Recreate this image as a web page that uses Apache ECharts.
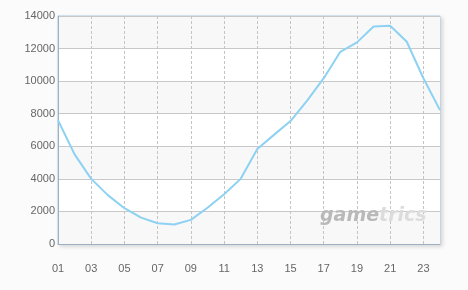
<!DOCTYPE html>
<html><head><meta charset="utf-8">
<script src="https://cdn.jsdelivr.net/npm/echarts@6/dist/echarts.min.js"></script>
<style>html,body{margin:0;padding:0;background:#fbfbfb}#c{width:468px;height:290px}</style>
</head><body><div id="c"></div>
<script>
var categories = ['01','02','03','04','05','06','07','08','09','10','11','12','13','14','15','16','17','18','19','20','21','22','23','24'];
var values = [7600,5500,4000,3000,2200,1620,1270,1200,1480,2230,3050,4000,5830,6700,7550,8800,10180,11800,12380,13350,13400,12420,10180,8220];
var yTicks = [0,2000,4000,6000,8000,10000,12000,14000];

var chart = echarts.init(document.getElementById('c'), null, {renderer:'canvas'});
chart.setOption({
  backgroundColor: '#fbfbfb',
  animation: false,
  grid: {left:58, right:28, top:16, bottom:46, show:true, borderColor:'#b3cfe6', borderWidth:1, backgroundColor:'#ffffff',
         shadowColor:'rgba(0,0,0,0.15)', shadowBlur:4, shadowOffsetX:2, shadowOffsetY:2},
  xAxis: {
    type:'category', data:categories, boundaryGap:false,
    axisLine:{show:true, lineStyle:{color:'#9fb0c2', width:1}},
    axisTick:{show:false},
    axisLabel:{interval:1, color:'#666', fontFamily:'Liberation Sans', fontSize:11, margin:19},
    splitLine:{show:true, interval:1, lineStyle:{color:'#c4c4c4', type:[3,2], width:1}}
  },
  yAxis: {
    type:'value', min:yTicks[0], max:yTicks[yTicks.length-1], interval:2000,
    axisLine:{show:true, lineStyle:{color:'#9fb0c2', width:1}},
    axisTick:{show:false},
    axisLabel:{color:'#666', fontFamily:'Liberation Sans', fontSize:11, margin:3, formatter:function(v){return String(v);}},
    splitLine:{show:true, lineStyle:{color:'#c8c8c8', width:1}},
    splitArea:{show:true, areaStyle:{color:['#f8f8f8','#ffffff']}}
  },
  graphic: [{
    type:'text', left:320, top:207, z:1,
    style:{
      text:'{a|game}{b|trics}',
      rich:{
        a:{fontFamily:'DejaVu Sans', fontStyle:'italic', fontWeight:'bold', fontSize:19, fill:'#b9b9b9'},
        b:{fontFamily:'DejaVu Sans', fontStyle:'italic', fontWeight:'bold', fontSize:19, fill:'#dcdcdc'}
      }
    }
  }],
  series: [{
    type:'line', data:values, symbol:'none', smooth:false, z:5,
    lineStyle:{color:'#8dd2f3', width:2}
  }]
});
</script></body></html>
